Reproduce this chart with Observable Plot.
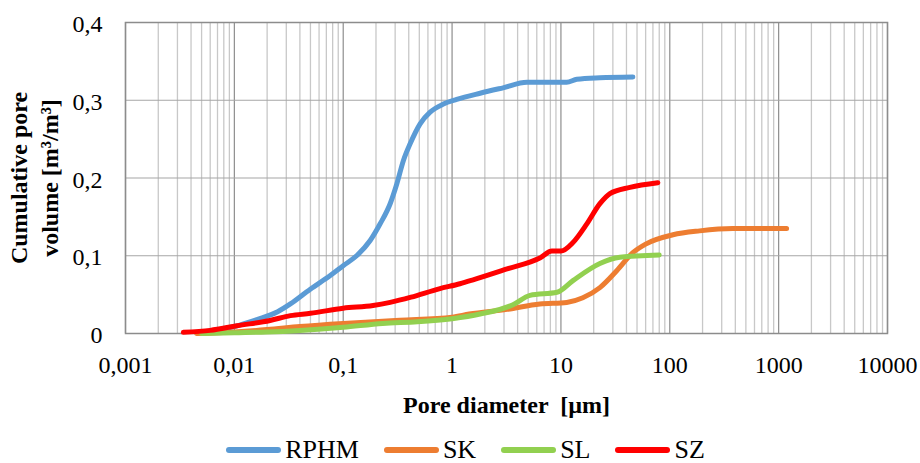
<!DOCTYPE html>
<html><head><meta charset="utf-8">
<script src="https://cdn.jsdelivr.net/npm/d3@7"></script>
<script src="https://cdn.jsdelivr.net/npm/@observablehq/plot@0.6"></script>
<style>
body{margin:0;background:#fff;font-family:"Times New Roman","Liberation Serif","DejaVu Serif",serif;}
#chart{width:920px;position:relative;}
#ytitle{position:absolute;left:35px;top:177.5px;transform:translate(-50%,-50%) rotate(-90deg);font-weight:bold;font-size:24px;line-height:31px;text-align:center;white-space:nowrap;color:#000;}
#legend{display:flex;justify-content:center;align-items:center;height:38px;box-sizing:border-box;padding-top:12px;padding-left:11px;font-size:26px;line-height:20px;color:#000;}
.item{display:flex;align-items:center;margin:0 12.5px;}
.sw{width:55px;height:6px;border-radius:3px;margin-right:4px;}
</style></head><body><div id="chart"></div>
<script>
const xTicks=[0.001,0.01,0.1,1,10,100,1000,10000];
const yTicks=[0,0.1,0.2,0.3,0.4];
const seriesNames=["RPHM","SK","SL","SZ"];
const seriesColors=["#5B9BD5","#ED7D31","#92D050","#FF0000"];
const xTitle="Pore diameter  [µm]";
const yTitleLines=["Cumulative pore","volume [m³/m³]"];

const rphmX=[0.0045,0.01,0.0161,0.025,0.0327,0.0498,0.076,0.1006,0.1336,0.1769,0.2184,0.2699,0.311,0.3574,0.4118,0.5086,0.6284,0.832,1.104,1.81,2.94,4.87,11.3,14,22.8,45.8];
const rphmY=[0.001,0.009,0.018,0.028,0.038,0.057,0.0746,0.0875,0.1003,0.1196,0.1411,0.1669,0.1926,0.2225,0.244,0.2697,0.2847,0.2951,0.301,0.309,0.316,0.323,0.323,0.327,0.329,0.330];

const skX=[0.0045,0.01,0.02,0.04,0.1,0.33,1,1.44,3.2,6.4,11.3,15.9,22.8,32.7,45.8,60,107,188,378,1183];
const skY=[0,0.002,0.005,0.009,0.013,0.017,0.021,0.025,0.031,0.038,0.040,0.046,0.059,0.081,0.104,0.115,0.127,0.132,0.135,0.135];

const slX=[0.005,0.01,0.02,0.04,0.1,0.23,0.48,1,1.81,3.63,5.2,9.2,12.9,22.8,34.8,80];
const slY=[0,0.001,0.002,0.004,0.008,0.013,0.015,0.019,0.025,0.037,0.049,0.053,0.068,0.090,0.098,0.101];

const szX=[0.0034,0.006,0.0106,0.0213,0.0327,0.05,0.1,0.188,0.27,0.42,0.76,1.18,1.56,3.2,6.4,8.26,10,12.9,17.3,22.8,28.2,43,77.6];
const szY=[0.0015,0.004,0.010,0.0167,0.023,0.026,0.0326,0.036,0.040,0.0467,0.0575,0.064,0.069,0.083,0.097,0.106,0.106,0.117,0.141,0.167,0.180,0.188,0.194];

const seriesX=[rphmX,skX,slX,szX];
const seriesY=[rphmY,skY,slY,szY];
const data=seriesNames.flatMap((s,i)=>seriesX[i].map((x,j)=>({series:s,x,y:seriesY[i][j]})));
const minorTicks=xTicks.slice(0,-1).flatMap(d=>[2,3,4,5,6,7,8,9].map(k=>d*k));
const fmt=d=>String(d).replace(".",",");
const serif="'Times New Roman','Liberation Serif',serif";

const plot=Plot.plot({
  width:920,height:425,
  marginLeft:125,marginRight:33,marginTop:22,marginBottom:92,
  style:{fontFamily:serif,fontSize:"24px",color:"#000",background:"#fff"},
  x:{type:"log",domain:[0.001,10000]},
  y:{domain:[0,0.4]},
  color:{domain:seriesNames,range:seriesColors},
  marks:[
    Plot.ruleX(minorTicks,{stroke:"#c8c8c8",strokeWidth:1.3}),
    Plot.ruleX(xTicks,{stroke:"#8e8e8e",strokeWidth:1.2}),
    Plot.ruleY(yTicks,{stroke:"#a6a6a6",strokeWidth:1.2}),
    Plot.frame({stroke:"#8c8c8c",strokeWidth:1.5}),
    Plot.line(data,{x:"x",y:"y",z:"series",stroke:"series",strokeWidth:5,curve:"monotone-x",strokeLinecap:"round",strokeLinejoin:"round"}),
    Plot.axisX({ticks:xTicks,tickFormat:fmt,tickSize:0,tickPadding:22,fontSize:24,fontFamily:serif,fontVariant:"normal",label:null}),
    Plot.axisY({ticks:yTicks,tickFormat:fmt,tickSize:0,tickPadding:23,fontSize:24,fontFamily:serif,fontVariant:"normal",dy:2,label:null}),
    Plot.text([xTitle],{text:d=>d,frameAnchor:"bottom",textAnchor:"middle",dy:79,fontWeight:"bold",fontSize:24,fontFamily:serif})
  ]
});
const chart=document.getElementById("chart");
chart.appendChild(plot);

const yt=document.createElement("div");
yt.id="ytitle";
yTitleLines.forEach((t,i)=>{ if(i) yt.appendChild(document.createElement("br")); yt.appendChild(document.createTextNode(t)); });
chart.appendChild(yt);

const legend=document.createElement("div");
legend.id="legend";
seriesNames.forEach((s,i)=>{
  const it=document.createElement("div");it.className="item";
  const sw=document.createElement("span");sw.className="sw";sw.style.background=seriesColors[i];
  const lb=document.createElement("span");lb.textContent=s;
  it.appendChild(sw);it.appendChild(lb);legend.appendChild(it);
});
chart.appendChild(legend);
</script></body></html>
